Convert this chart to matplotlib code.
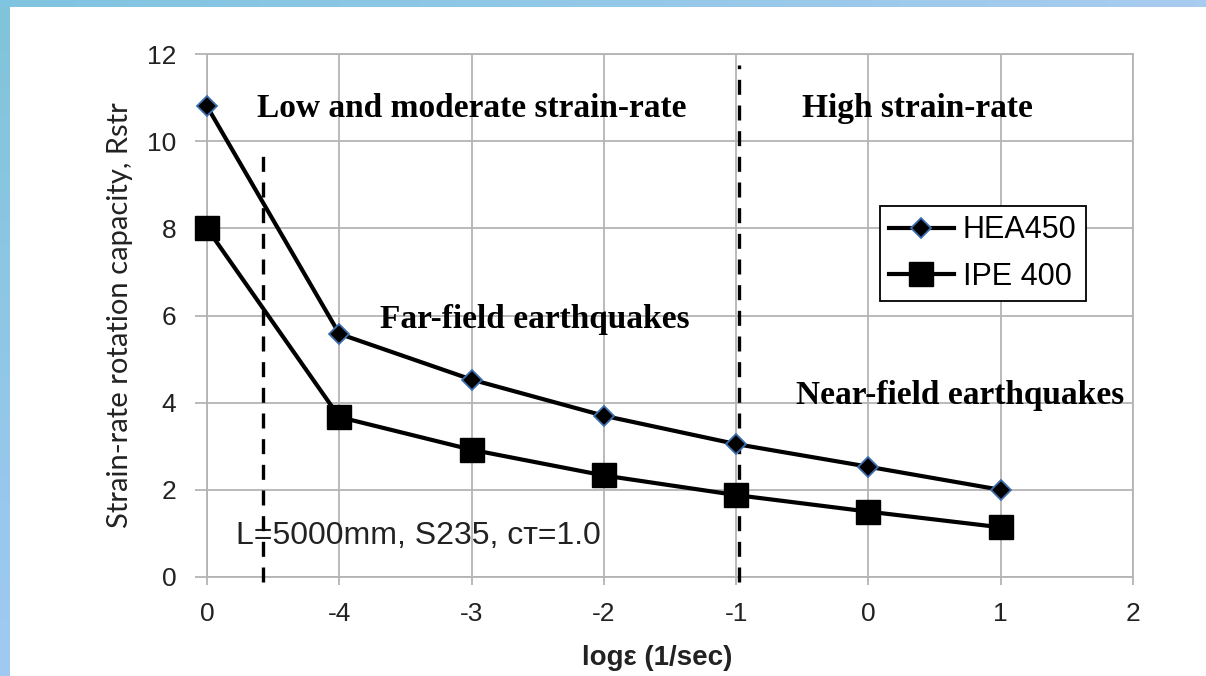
import numpy as np
import matplotlib
matplotlib.use("Agg")
import matplotlib.pyplot as plt

# ---- data ----
x_pos = [0, 1, 2, 3, 4, 5, 6]
x_ticklabels = ["0", "-4", "-3", "-2", "-1", "0", "1", "2"]
hea450 = [10.8, 5.58, 4.53, 3.7, 3.05, 2.53, 2.0]
ipe400 = [8.0, 3.67, 2.92, 2.33, 1.88, 1.5, 1.14]

# dashed region boundaries: (x, y_top)
bound_x = [0.42, 4.02]
bound_top = [9.8, 11.75]

SANS = ["Liberation Sans", "DejaVu Sans"]
SERIF = ["Liberation Serif", "DejaVu Serif"]
GRID = "#b4b4b4"
INK = "#222222"

fig = plt.figure(figsize=(12.06, 6.76), dpi=100)

# blue frame strips on the left and top edges
bg = fig.add_axes([0, 0, 1, 1], zorder=-10)
grad_v = np.linspace(0, 1, 256).reshape(-1, 1)
left_cols = np.array([[0.50, 0.77, 0.85], [0.63, 0.79, 0.95]])
img_l = left_cols[0] * (1 - grad_v[..., None]) + left_cols[1] * grad_v[..., None]
bg.imshow(img_l, extent=[0, 10, 676, 0], aspect="auto")
grad_h = np.linspace(0, 1, 256).reshape(1, -1)
top_cols = np.array([[0.50, 0.77, 0.88], [0.66, 0.80, 0.94]])
img_t = top_cols[0] * (1 - grad_h[..., None]) + top_cols[1] * grad_h[..., None]
bg.imshow(img_t, extent=[0, 1206, 7, 0], aspect="auto")
bg.set_xlim(0, 1206)
bg.set_ylim(676, 0)
bg.axis("off")

ax = fig.add_axes([207 / 1206, 1 - 577 / 676, (1133 - 207) / 1206, (577 - 54) / 676])
ax.set_facecolor("none")

ax.plot(x_pos, hea450, color="black", lw=3, marker="D", ms=10.5,
        mfc="black", mec="#3d6fb0", mew=1.3, label="HEA450", zorder=5,
        clip_on=False)
ax.plot(x_pos, ipe400, color="black", lw=3, marker="s", ms=17,
        mfc="black", mec="black", label="IPE 400", zorder=5, clip_on=False)

for bx, bt in zip(bound_x, bound_top):
    ax.plot([bx, bx], [-0.12, bt], color="black", lw=2.4,
            ls=(0, (4.5, 3.2)), clip_on=False, zorder=4)

ax.set_xlim(0, 7)
ax.set_ylim(0, 12)
ax.set_xticks(range(len(x_ticklabels)))
ax.set_xticklabels(x_ticklabels)
ax.set_yticks(range(0, 13, 2))
ax.grid(True, color=GRID, lw=1.3)
ax.set_axisbelow(True)
for s in ax.spines.values():
    s.set_color(GRID)
    s.set_linewidth(1.3)
ax.tick_params(colors=GRID, width=1.3, labelsize=19, labelcolor=INK)
ax.tick_params(axis="y", length=9, pad=13)
ax.tick_params(axis="x", length=6, pad=12)
for lab in ax.get_xticklabels() + ax.get_yticklabels():
    lab.set_family(SANS)

ax.set_ylabel("Strain-rate rotation capacity, Rstr", family=["Lato", "DejaVu Sans"],
              fontsize=21, color=INK)
ax.yaxis.set_label_coords(-0.08, 0.5)
ax.set_xlabel("logε (1/sec)", family=SANS, fontweight="bold", fontsize=20,
              color=INK)
ax.xaxis.set_label_coords(0.486, -0.13)

ax.text(2.0, 10.75, "Low and moderate strain-rate", family=SERIF,
        fontweight="bold", fontsize=24, ha="center", va="center")
ax.text(5.37, 10.75, "High strain-rate", family=SERIF,
        fontweight="bold", fontsize=24, ha="center", va="center")
ax.text(2.48, 5.9, "Far-field earthquakes", family=SERIF,
        fontweight="bold", fontsize=24, ha="center", va="center")
ax.text(5.69, 4.17, "Near-field earthquakes", family=SERIF,
        fontweight="bold", fontsize=24, ha="center", va="center")
ax.text(1.6, 0.95, "L=5000mm, S235, ᴄᴛ=1.0", family=SANS,
        fontsize=23, ha="center", va="center", color=INK)

leg = ax.legend(loc="upper left", bbox_to_anchor=(0.727, 0.709), frameon=True,
                fancybox=False, edgecolor="black", framealpha=1,
                prop={"family": SANS, "size": 22}, handlelength=2.1,
                handletextpad=0.3, borderpad=0.3, labelspacing=0.55,
                borderaxespad=0)
leg.get_frame().set_linewidth(1.3)

fig.savefig("out.png", dpi=100, facecolor="white")
